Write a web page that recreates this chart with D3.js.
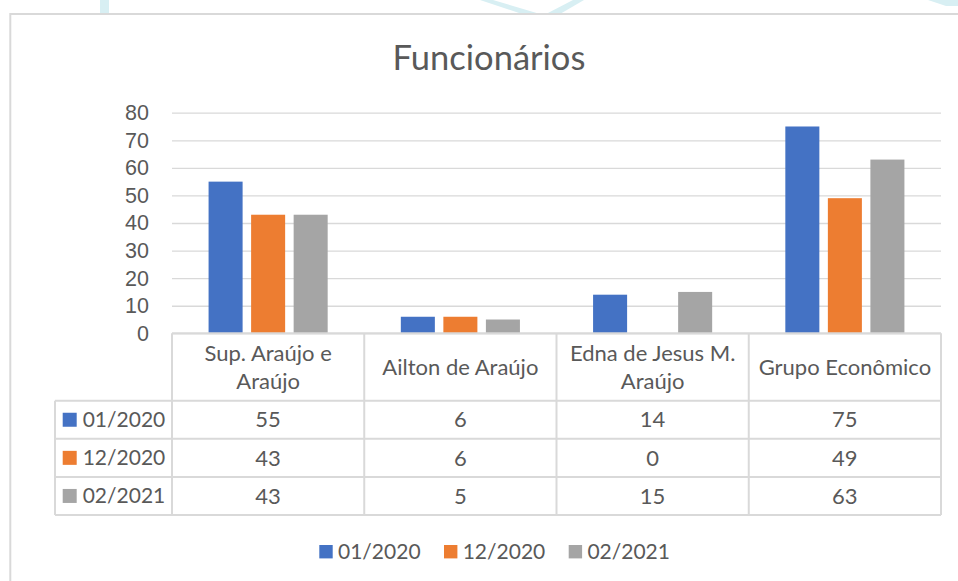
<!DOCTYPE html>
<html>
<head>
    <meta charset="utf-8">
    <script src="https://d3js.org/d3.v7.min.js" charset="utf-8"></script>
    <style>
        body { margin: 0; background: #fff; }
        svg { display: block; font-family: Lato, "Open Sans", sans-serif; }
    </style>
</head>
<body>
<script>
    // chart data
    const categories = ["Sup. Araújo e Araújo", "Ailton de Araújo", "Edna de Jesus M. Araújo", "Grupo Econômico"];
    const seriesNames = ["01/2020", "12/2020", "02/2021"];
    const values0120 = [55, 6, 14, 75];
    const values1220 = [43, 6, 0, 49];
    const values0221 = [43, 5, 15, 63];
    const yTicks = [0, 10, 20, 30, 40, 50, 60, 70, 80];
    const seriesColors = ["#4472c4", "#ed7d31", "#a5a5a5"];

    const series = seriesNames.map((name, i) => ({
        name: name,
        color: seriesColors[i],
        values: [values0120, values1220, values0221][i]
    }));

    const W = 958, H = 581;
    const textColor = "#595959", lineColor = "#d9d9d9";

    const svg = d3.select("body").append("svg")
        .attr("width", W).attr("height", H);

    // faint background decoration above the chart frame
    const deco = [
        [[100, 0], [109, 0], [109, 14], [100, 14]],
        [[480, 0], [493, 0], [540, 14], [522, 14]],
        [[573, 0], [584, 0], [560, 14], [546, 14]],
        [[928, 0], [958, 0], [958, 6], [946, 6]]
    ];
    svg.selectAll("polygon.deco").data(deco).enter().append("polygon")
        .attr("class", "deco")
        .attr("points", d => d.map(p => p.join(",")).join(" "))
        .style("fill", "#d8eff3");

    // chart frame
    svg.append("rect")
        .attr("x", 10.3).attr("y", 14).attr("width", 1000).attr("height", 700)
        .style("fill", "#fff").style("stroke", lineColor).style("stroke-width", 2);

    svg.append("text")
        .attr("x", 489).attr("y", 70)
        .attr("text-anchor", "middle")
        .style("font-size", "34.5px").style("fill", textColor)
        .text("Funcionários");

    const left = 172, right = 941;
    const x = d3.scaleBand().domain(categories).range([left, right]);
    const xs = d3.scaleBand().domain(seriesNames).range([0, x.bandwidth()])
        .paddingInner(0.2).paddingOuter(0.86);
    const y = d3.scaleLinear().domain([0, 80]).range([333.3, 112.7]);

    // gridlines
    const grid = svg.append("g").attr("transform", `translate(${left},0)`)
        .call(d3.axisLeft(y).tickValues(yTicks).tickSize(-(right - left)).tickFormat(""));
    grid.select(".domain").remove();
    grid.selectAll("line").style("stroke", lineColor).style("stroke-width", 1.3);

    // y labels
    const yAxis = svg.append("g").attr("transform", `translate(${left},0)`)
        .call(d3.axisLeft(y).tickValues(yTicks).tickSize(0).tickPadding(23));
    yAxis.select(".domain").remove();
    yAxis.selectAll("text")
        .attr("font-family", null).attr("font-size", null)
        .style("font-size", "21.5px").style("fill", textColor);

    // bars
    const groups = svg.selectAll("g.series").data(series).enter().append("g")
        .attr("class", "series").style("fill", d => d.color);
    groups.selectAll("rect")
        .data(d => d.values.map((v, i) => ({ cat: categories[i], v: v, name: d.name })))
        .enter().append("rect")
        .attr("x", d => x(d.cat) + xs(d.name))
        .attr("width", xs.bandwidth())
        .attr("y", d => y(d.v))
        .attr("height", d => y(0) - y(d.v));

    // data table
    const headTop = y(0), headH = 67.4, rowH = 38.1, labelLeft = 55;
    const rowTop = i => headTop + headH + i * rowH;
    const tableBottom = rowTop(series.length);
    const table = svg.append("g");

    const hLines = [{ y: headTop, x1: left }].concat(
        d3.range(series.length + 1).map(i => ({ y: rowTop(i), x1: labelLeft })));
    table.selectAll("line.h").data(hLines).enter().append("line")
        .attr("x1", d => d.x1).attr("x2", right)
        .attr("y1", d => d.y).attr("y2", d => d.y);
    const vLines = categories.map(c => x(c)).concat([right]);
    table.selectAll("line.v").data(vLines).enter().append("line")
        .attr("x1", d => d).attr("x2", d => d)
        .attr("y1", headTop).attr("y2", tableBottom);
    table.append("line")
        .attr("x1", labelLeft).attr("x2", labelLeft)
        .attr("y1", rowTop(0)).attr("y2", tableBottom);
    table.selectAll("line").style("stroke", lineColor).style("stroke-width", 2);

    // header labels with wrapping
    const lineGap = 27.6;
    categories.forEach(c => {
        const t = svg.append("text")
            .attr("text-anchor", "middle")
            .style("font-size", "22px").style("fill", textColor);
        const words = c.split(" ");
        const lines = [];
        let cur = [];
        words.forEach(w => {
            const test = cur.concat([w]).join(" ");
            t.text(test);
            if (t.node().getComputedTextLength() > x.bandwidth() - 14 && cur.length) {
                lines.push(cur.join(" "));
                cur = [w];
            } else {
                cur.push(w);
            }
        });
        lines.push(cur.join(" "));
        t.text(null);
        const cy = headTop + headH / 2 + 7.7;
        lines.forEach((l, i) => {
            t.append("tspan")
                .attr("x", x(c) + x.bandwidth() / 2)
                .attr("y", cy + (i - (lines.length - 1) / 2) * lineGap)
                .text(l);
        });
    });

    // rows
    series.forEach((s, r) => {
        const cy = rowTop(r) + rowH / 2;
        svg.append("rect")
            .attr("x", 62.7).attr("y", cy - 7).attr("width", 14).attr("height", 14)
            .style("fill", s.color);
        svg.append("text")
            .attr("x", 82.7).attr("y", cy + 7.5)
            .style("font-size", "21px").style("fill", textColor)
            .text(s.name);
        svg.selectAll(null).data(s.values).enter().append("text")
            .attr("x", (d, i) => x(categories[i]) + x.bandwidth() / 2)
            .attr("y", cy + 7.7)
            .attr("text-anchor", "middle")
            .style("font-size", "22px").style("fill", textColor)
            .text(d => d);
    });

    // legend
    const legend = svg.selectAll("g.legend").data(series).enter().append("g")
        .attr("class", "legend")
        .attr("transform", (d, i) => `translate(${319.3 + i * 124.7},545)`);
    legend.append("rect")
        .attr("width", 13.4).attr("height", 13.4)
        .style("fill", d => d.color);
    legend.append("text")
        .attr("x", 18.7).attr("y", 13.5)
        .style("font-size", "21px").style("fill", textColor)
        .text(d => d.name);
</script>
</body>
</html>
